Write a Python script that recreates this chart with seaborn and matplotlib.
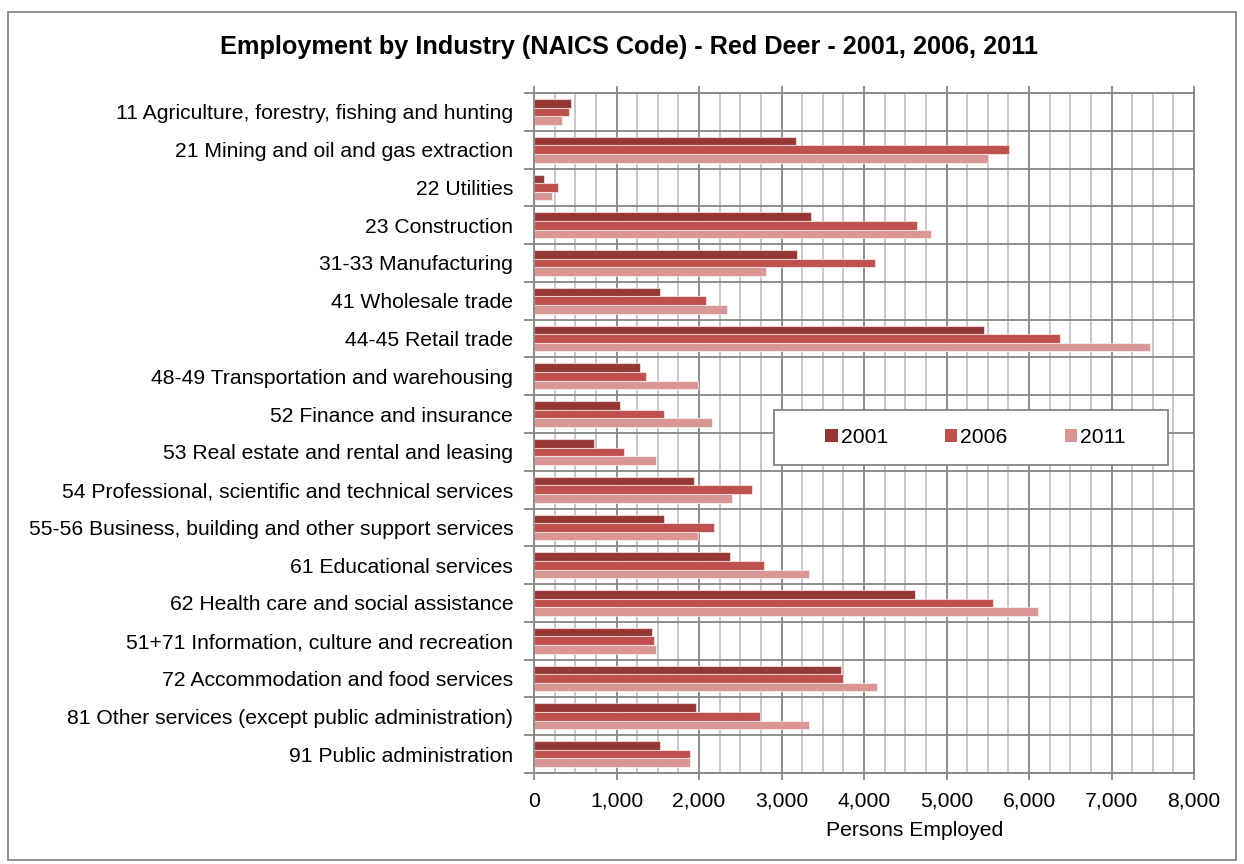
import numpy as np
import pandas as pd
import matplotlib
matplotlib.use("Agg")
import matplotlib.pyplot as plt
from matplotlib.ticker import MultipleLocator, FixedLocator, FuncFormatter
from matplotlib.patches import Rectangle
import seaborn as sns

# Employment by industry, Red Deer census years
industries = [
    "11 Agriculture, forestry, fishing and hunting",
    "21 Mining and oil and gas extraction",
    "22 Utilities",
    "23 Construction",
    "31-33 Manufacturing",
    "41 Wholesale trade",
    "44-45 Retail trade",
    "48-49 Transportation and warehousing",
    "52 Finance and insurance",
    "53 Real estate and rental and leasing",
    "54 Professional, scientific and technical services",
    "55-56 Business, building and other support services",
    "61 Educational services",
    "62 Health care and social assistance",
    "51+71 Information, culture and recreation",
    "72 Accommodation and food services",
    "81 Other services (except public administration)",
    "91 Public administration",
]
years = ["2001", "2006", "2011"]
emp_2001 = [445, 3170, 125, 3360, 3190, 1530, 5460, 1285, 1040, 730,
            1940, 1575, 2370, 4620, 1430, 3720, 1965, 1530]
emp_2006 = [420, 5755, 295, 4640, 4135, 2080, 6380, 1360, 1575, 1090,
            2640, 2180, 2785, 5560, 1455, 3745, 2735, 1890]
emp_2011 = [345, 5505, 220, 4810, 2810, 2345, 7465, 1985, 2160, 1480,
            2395, 1985, 3335, 6110, 1480, 4160, 3335, 1890]
colors = ["#953735", "#C0504D", "#D99694"]

df = pd.DataFrame({
    "Industry": industries * 3,
    "Year": [y for y in years for _ in industries],
    "Employed": emp_2001 + emp_2006 + emp_2011,
})

sns.set_style("white")
plt.rcParams["font.family"] = ["Liberation Sans", "DejaVu Sans"]
plt.rcParams["text.color"] = "black"
plt.rcParams["axes.labelcolor"] = "black"

W, H = 1244, 864
fig = plt.figure(figsize=(W / 100, H / 100), dpi=100)
ax = fig.add_axes([534 / W, 1 - 773 / H, 660 / W, 680 / H])

grid_dark = "#868686"
grid_light = "#c3c3c3"
fs = 15.2

sns.barplot(data=df, y="Industry", x="Employed", hue="Year",
            hue_order=years, order=industries, palette=colors,
            saturation=1, orient="h", width=0.68,
            edgecolor=(1, 1, 1, 0.55), linewidth=0.8, ax=ax)

ax.set_xlim(0, 8000)
ax.set_ylim(len(industries) - 0.5, -0.5)

ax.xaxis.set_major_locator(MultipleLocator(1000))
ax.xaxis.set_minor_locator(MultipleLocator(250))
ax.xaxis.set_major_formatter(FuncFormatter(lambda v, p: f"{int(v):,}"))
ax.yaxis.set_minor_locator(FixedLocator(np.arange(-0.5, len(industries), 1.0)))

ax.set_axisbelow(True)
ax.grid(which="minor", axis="x", color=grid_light, lw=1.3)
ax.grid(which="major", axis="x", color=grid_dark, lw=1.3)
ax.grid(which="minor", axis="y", color=grid_dark, lw=1.3)
ax.grid(which="major", axis="y", visible=False)

for side in ["left", "bottom", "top", "right"]:
    ax.spines[side].set_visible(True)
    ax.spines[side].set_color(grid_dark)
    ax.spines[side].set_linewidth(1.3)

ax.tick_params(axis="x", which="major", top=True, bottom=True, direction="out",
               length=5, width=1.3, color=grid_dark, labelsize=fs, pad=8.5,
               labeltop=False, labelbottom=True, labelcolor="black")
ax.tick_params(axis="x", which="minor", length=0)
ax.tick_params(axis="y", which="major", left=False, length=0, labelsize=fs,
               pad=15, labelcolor="black")
ax.tick_params(axis="y", which="minor", left=True, direction="out", length=7,
               width=1.3, color=grid_dark)

ax.set_ylabel("")
ax.set_xlabel("Persons Employed", fontsize=fs, va="top")
ax.xaxis.set_label_coords(0.577, -0.071)

# Legend in its own framed box
handles, labels = ax.get_legend_handles_labels()
if ax.get_legend() is not None:
    ax.get_legend().remove()
ax.add_patch(Rectangle((0.3636, 0.453), 0.597, 0.081, transform=ax.transAxes,
                       facecolor="white", edgecolor=grid_dark, lw=1.3,
                       zorder=5))
leg = ax.legend(handles, labels, ncol=3, loc="center",
                bbox_to_anchor=(0.669, 0.4934), frameon=False, fontsize=fs,
                handlelength=0.58, handleheight=0.58, handletextpad=0.15,
                columnspacing=2.7)
leg.set_zorder(6)
for h in leg.legend_handles:
    h.set_edgecolor("none")

fig.text(0.506, 1 - 47 / H,
         "Employment by Industry (NAICS Code) - Red Deer - 2001, 2006, 2011",
         ha="center", va="center", fontsize=18.2, weight="bold")

# Outer chart border
fig.add_artist(Rectangle((8 / W, 1 - 860 / H), (1236 - 8) / W, (860 - 12) / H,
                         transform=fig.transFigure, fill=False,
                         edgecolor=grid_dark, lw=1.3))

fig.savefig("out.png", dpi=100)
